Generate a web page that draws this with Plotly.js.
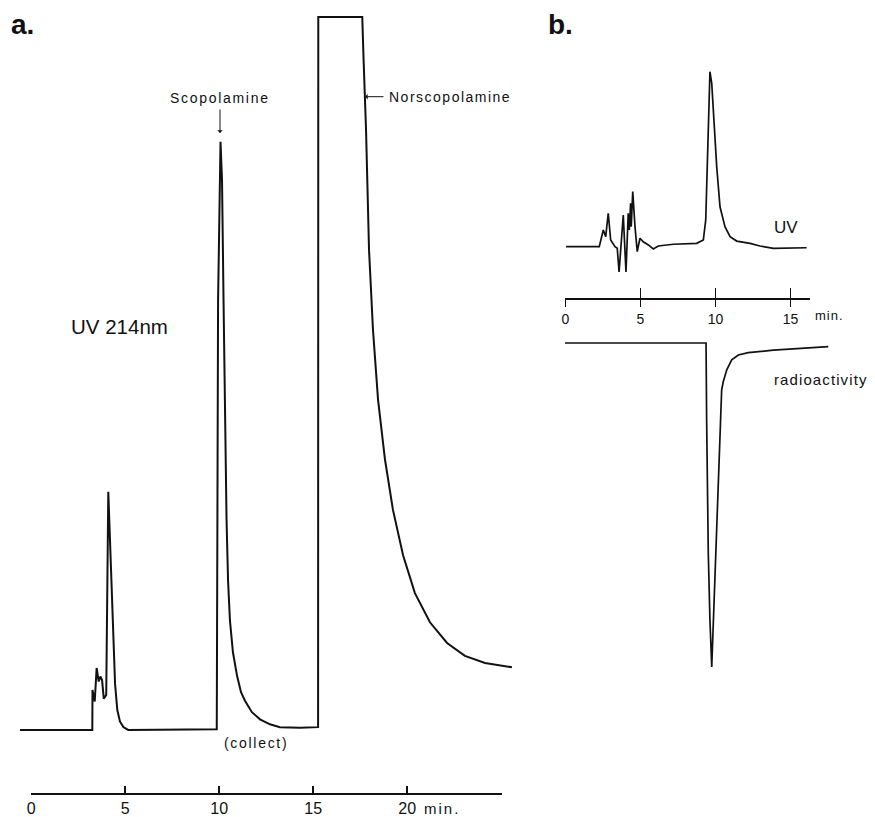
<!DOCTYPE html>
<html>
<head>
<meta charset="utf-8">
<script src="https://cdn.plot.ly/plotly-3.0.1.min.js"></script>
<style>
  html, body { margin: 0; padding: 0; background: #fff; }
  #chart { width: 875px; height: 817px; }
</style>
</head>
<body>
<div id="chart"></div>
<script>
// ---------- Data ----------
// Panel a: UV 214 nm trace, time in minutes, signal in relative units (100 = detector full scale)
const aTime = [-0.60, 3.25, 3.26, 3.32, 3.38, 3.48, 3.59, 3.68, 3.77, 3.86, 3.99, 4.10, 4.23, 4.34, 4.46, 4.58, 4.72, 4.90, 5.16,
  9.87, 9.94, 10.07, 10.15, 10.23, 10.31, 10.39, 10.47, 10.57, 10.73, 10.95, 11.16, 11.37, 11.74, 12.17, 12.70, 13.23, 14.30, 15.26,
  15.27, 17.61, 17.68, 17.81, 17.97, 18.18, 18.45, 18.82, 19.24, 19.78, 20.41, 21.21, 22.12, 23.07, 24.14, 25.57];
const aSignal = [0, 0, 5.6, 4.9, 4.0, 8.7, 6.8, 7.5, 7.0, 4.4, 4.9, 33.4, 24.3, 15.0, 6.5, 2.8, 1.2, 0.4, 0,
  0.1, 60.3, 82.5, 77.1, 60.3, 43.5, 29.5, 21.0, 15.4, 10.9, 7.6, 5.3, 4.1, 2.5, 1.5, 0.8, 0.4, 0.3, 0.4,
  100, 100, 94.0, 84.2, 67.3, 56.1, 46.3, 37.9, 30.9, 24.5, 19.2, 15.1, 12.2, 10.4, 9.4, 8.8];
const aTickVals = [0, 5, 10, 15, 20, 25.04];
const aTickText = ['0', '5', '10', '15', '20', ''];

// Panel b: UV trace
const bTime = [0.05, 2.26, 2.53, 2.69, 2.86, 3.02, 3.31, 3.46, 3.58, 3.86, 4.04, 4.19, 4.26, 4.35, 4.39, 4.49, 4.64, 4.79, 4.97,
  5.19, 5.53, 5.86, 6.19, 7.19, 8.75, 9.19, 9.35, 9.48, 9.63, 9.75, 9.90, 10.08, 10.30, 10.63, 10.97, 11.41, 12.30, 12.96, 13.85, 16.07];
const bUV = [0, 0, 9.5, 5.7, 19.0, 3.8, 0, -0.9, -14.4, 18.0, -14.4, 19.0, 9.5, 24.7, 11.4, 31.3, 11.4, -2.8, 4.8,
  2.8, 1.0, -1.3, 0.4, 1.4, 1.9, 3.8, 15.2, 60.6, 99.4, 92.8, 70.1, 45.5, 22.7, 11.4, 5.7, 3.2, 1.9, 0.4, -0.9, -0.6];

// Panel b: radioactivity trace (peak drawn downward)
const rTime = [-0.02, 9.37, 9.41, 9.52, 9.63, 9.75, 10.41, 10.52, 10.75, 11.08, 11.52, 12.18, 13.85, 17.51];
const rSignal = [0, 0, -23.8, -64.8, -85.5, -100, -14.5, -11.9, -8.3, -5.2, -3.7, -3.0, -2.2, -1.1];

const bTickVals = [0, 5, 10, 15];
const bTickText = ['0', '5', '10', '15'];

// ---------- Layout helpers (page pixels -> paper fractions) ----------
const W = 875, H = 817;
const X = px => px / W;
const Y = py => 1 - py / H;
const FONT = 'Liberation Sans, Arial, sans-serif';
const INK = '#111';

const traces = [
  { x: aTime, y: aSignal, xaxis: 'x', yaxis: 'y', type: 'scatter', mode: 'lines',
    line: { color: INK, width: 2 }, hoverinfo: 'skip' },
  { x: [], y: [], xaxis: 'x2', yaxis: 'y2', type: 'scatter', mode: 'lines', hoverinfo: 'skip' },
  { x: bTime, y: bUV, xaxis: 'x3', yaxis: 'y3', type: 'scatter', mode: 'lines',
    line: { color: INK, width: 1.7 }, hoverinfo: 'skip' },
  { x: rTime, y: rSignal, xaxis: 'x3', yaxis: 'y4', type: 'scatter', mode: 'lines',
    line: { color: INK, width: 1.7 }, hoverinfo: 'skip' },
  { x: [], y: [], xaxis: 'x5', yaxis: 'y5', type: 'scatter', mode: 'lines', hoverinfo: 'skip' },
  { x: [], y: [], xaxis: 'x6', yaxis: 'y5', type: 'scatter', mode: 'lines', hoverinfo: 'skip' }
];

const hidden = { visible: false, fixedrange: true };

function txt(s, ls) {
  return ls ? '<span style="letter-spacing:' + ls + 'px">' + s + '</span>' : s;
}
function label(s, left, cy, size, ls, bold) {
  return { text: txt(bold ? '<b>' + s + '</b>' : s, ls), xref: 'paper', yref: 'paper',
    x: X(left), y: Y(cy), xanchor: 'left', yanchor: 'middle', showarrow: false,
    font: { family: FONT, size: size, color: INK } };
}
function arrow(x1, y1, dx, dy) {
  return { text: '', xref: 'paper', yref: 'paper', x: X(x1), y: Y(y1),
    axref: 'pixel', ayref: 'pixel', ax: dx, ay: dy, showarrow: true,
    arrowhead: 1, arrowsize: 0.9, arrowwidth: 1, arrowcolor: INK, standoff: 0, startstandoff: 0 };
}

const layout = {
  width: W, height: H,
  margin: { l: 0, r: 0, t: 0, b: 0, pad: 0 },
  paper_bgcolor: '#fff', plot_bgcolor: 'rgba(0,0,0,0)',
  showlegend: false,
  font: { family: FONT, color: INK },
  // panel a data
  xaxis: Object.assign({ domain: [0, X(525)], range: [-1.660, 26.266], anchor: 'y' }, hidden),
  yaxis: Object.assign({ domain: [Y(760), Y(10)], range: [-4.21, 100.98], anchor: 'x' }, hidden),
  // panel a time axis
  xaxis2: { domain: [X(31.2), X(502)], range: [0, 25.04], anchor: 'y2', fixedrange: true,
    showline: true, linewidth: 1.8, linecolor: INK, showgrid: false, zeroline: false,
    ticks: 'inside', ticklen: 7, tickwidth: 1.5, tickcolor: INK,
    tickmode: 'array', tickvals: aTickVals, ticktext: aTickText,
    tickfont: { family: FONT, size: 16, color: INK } },
  yaxis2: Object.assign({ domain: [Y(793), Y(780)], range: [0, 1], anchor: 'x2' }, hidden),
  // panel b data
  xaxis3: Object.assign({ domain: [X(540), 1], range: [-1.684, 20.619], anchor: 'y3' }, hidden),
  yaxis3: Object.assign({ domain: [Y(285), Y(50)], range: [-21.76, 111.76], anchor: 'x3' }, hidden),
  yaxis4: Object.assign({ domain: [Y(690), Y(330)], range: [-107.10, 4.01], anchor: 'x3' }, hidden),
  // panel b time axis (ticks crossing the line: outside + inside)
  xaxis5: { domain: [X(565.3), X(810)], range: [0, 16.292], anchor: 'y5', fixedrange: true,
    showline: true, linewidth: 2, linecolor: INK, showgrid: false, zeroline: false,
    ticks: 'outside', ticklen: 7, tickwidth: 1.5, tickcolor: INK,
    tickmode: 'array', tickvals: bTickVals, ticktext: bTickText,
    tickfont: { family: FONT, size: 14, color: INK } },
  xaxis6: { domain: [X(565.3), X(810)], range: [0, 16.292], anchor: 'y5', overlaying: 'x5', fixedrange: true,
    showline: false, showgrid: false, zeroline: false,
    ticks: 'inside', ticklen: 10, tickwidth: 1.5, tickcolor: INK,
    tickmode: 'array', tickvals: bTickVals, showticklabels: false },
  yaxis5: Object.assign({ domain: [Y(298), Y(290)], range: [0, 1], anchor: 'x5' }, hidden),
  annotations: [
    label('a.', 9, 24, 28, 0, true),
    label('b.', 546, 24, 28, 0, true),
    label('Scopolamine', 168, 98.4, 14, 1.7),
    arrow(220, 133, 0, -25),
    label('Norscopolamine', 387, 96.8, 14, 1.5),
    arrow(365, 96.7, 20, 0),
    label('UV 214nm', 69, 326, 20.5, 0),
    label('(collect)', 222, 743, 14, 1.7),
    label('min.', 422, 808, 15, 2),
    label('UV', 772, 227, 17, 0),
    label('radioactivity', 772, 379.5, 15, 1.1),
    label('min.', 813, 315.5, 13, 1)
  ]
};

Plotly.newPlot('chart', traces, layout, { staticPlot: true, displayModeBar: false });
</script>
</body>
</html>
